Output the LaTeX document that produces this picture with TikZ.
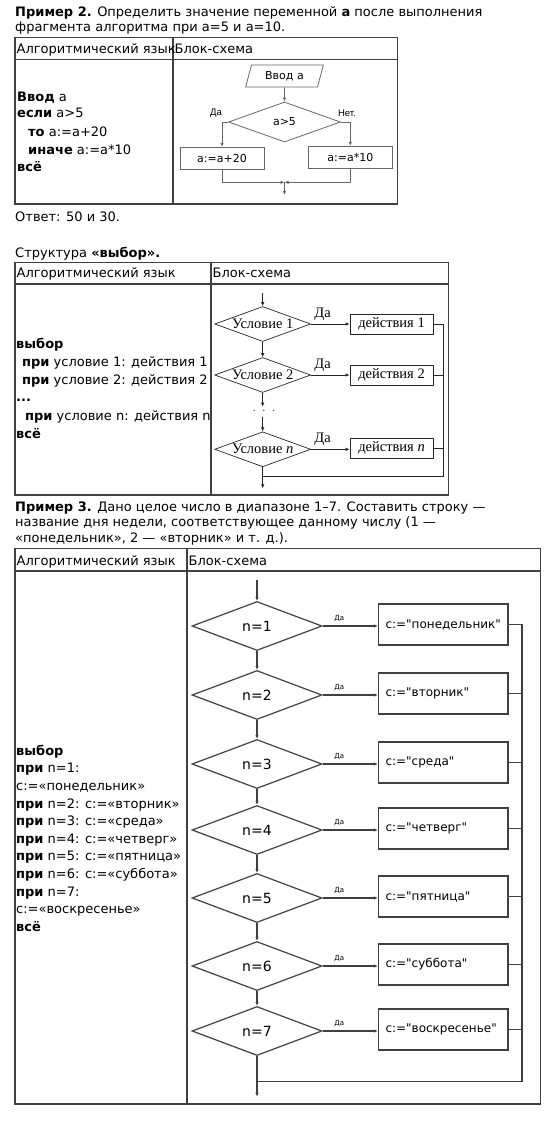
\documentclass[tikz,border=0pt]{standalone}
\usepackage{fontspec}
\setmainfont{DejaVu Sans}
\newfontfamily\serifrm{Liberation Serif}
\newfontfamily\arialsf{Liberation Sans}
\newfontfamily\boxsf{DejaVu Sans}
\usetikzlibrary{shapes.geometric,arrows.meta}

\begin{document}
\begin{tikzpicture}
[x=1pt,y=-1pt,>={Latex[length=4pt,width=3.5pt]},
txt/.style={anchor=base west,inner sep=0pt,font=\fontsize{13}{15}\selectfont},
tab/.style={draw=black!75,line width=1.3pt},
flow1/.style={draw=black!60,line width=.8pt},
flow2/.style={draw=black!85,line width=.7pt},
flow3/.style={draw=black!75,line width=1.2pt},
io/.style={trapezium,trapezium left angle=75,trapezium right angle=105,flow1,minimum height=22pt,inner xsep=5pt,font=\fontsize{11}{13}\selectfont},
dec1/.style={diamond,aspect=2.8,flow1,minimum width=112pt,minimum height=40pt,inner sep=0pt,font=\fontsize{11}{13}\selectfont},
box1/.style={rectangle,flow1,minimum width=84pt,minimum height=22pt,inner sep=0pt,font=\fontsize{11}{13}\selectfont},
lbl1/.style={inner sep=0pt,font=\arialsf\fontsize{9.5}{11}\selectfont},
dec2/.style={diamond,aspect=2.75,flow2,minimum width=96pt,minimum height=35pt,inner sep=0pt,font=\serifrm\fontsize{14.5}{16}\selectfont},
box2/.style={rectangle,flow2,minimum width=83pt,minimum height=20pt,inner sep=0pt,font=\serifrm\fontsize{14.5}{16}\selectfont},
lbl2/.style={inner sep=1pt,font=\serifrm\fontsize{14.5}{16}\selectfont},
dec3/.style={diamond,aspect=2.65,flow3,minimum width=130pt,minimum height=49pt,inner sep=0pt,font=\fontsize{14}{16}\selectfont},
box3/.style={rectangle,flow3,text width=115.5pt,align=left,inner xsep=7pt,minimum height=41pt,font=\boxsf\fontsize{12}{14}\selectfont},
lbl3/.style={inner sep=1pt,font=\fontsize{7}{8}\selectfont}]
\useasboundingbox (0,0) rectangle (553,1128);
\node[txt] (t1) at (15,16) {\textbf{Пример 2.} Определить значение переменной \textbf{а} после выполнения};
\node[txt] (t2) at (15,31.2) {фрагмента алгоритма при а=5 и а=10.};
\draw[tab] (15,37.3) rectangle (397.5,204) (15,59.3) -- (397.5,59.3) (173,37.3) -- (173,204);
\node[txt] (h1a) at (16.5,53.8) {Алгоритмический язык};
\node[txt] (h1b) at (174.5,53.8) {Блок-схема};
\node[txt] (p1) at (17,101.2) {\textbf{Ввод} а};
\node[txt] (p2) at (17,117.8) {\textbf{если} а>5};
\node[txt] (p3) at (28,136.2) {\textbf{то} а:=а+20};
\node[txt] (p4) at (28,154.5) {\textbf{иначе} а:=а*10};
\node[txt] (p5) at (17,171.8) {\textbf{всё}};
\node[io] (inp) at (284.5,76) {Ввод а};
\node[dec1] (cond) at (284.5,122) {а>5};
\node[lbl1] (da) at (216,113.3) {Да};
\node[lbl1] (net) at (347,113.3) {Нет.};
\node[box1] (yes) at (222,158.3) {а:=а+20};
\node[box1] (no) at (350.3,157.2) {а:=а*10};
\coordinate (join) at (284.5,182.3);
\coordinate (out) at (284.5,195);
\draw[flow1,->] (inp) -- (cond);
\draw[flow1,->] (cond.west) -| (yes.north);
\draw[flow1,->] (cond.east) -| (no.north);
\draw[flow1,->] (yes.south) |- (join);
\draw[flow1,->] (no.south) |- (join);
\draw[flow1,->] (join) -- (out);
\node[txt] (ans) at (15,221.2) {Ответ: 50 и 30.};
\node[txt] (t3) at (15,257.8) {Структура \textbf{«выбор».}};
\draw[tab] (15,262.3) rectangle (448.7,495) (15,284) -- (448.7,284) (211,262.3) -- (211,495);
\node[txt] (h2a) at (16.5,277.8) {Алгоритмический язык};
\node[txt] (h2b) at (212.5,277.8) {Блок-схема};
\node[txt] (q1) at (16,348.5) {\textbf{выбор}};
\node[txt] (q2) at (22,366.5) {\textbf{при} условие 1: действия 1};
\node[txt] (q3) at (22,384.5) {\textbf{при} условие 2: действия 2};
\node[txt] (q4) at (16,401.5) {\textbf{...}};
\node[txt] (q5) at (25,420.5) {\textbf{при} условие n: действия n};
\node[txt] (q6) at (16,438.5) {\textbf{всё}};
\coordinate (s2) at (262.7,293.3);
\node[dec2] (u1) at (262.7,324) {Условие 1};
\node[dec2] (u2) at (262.7,375) {Условие 2};
\node[dec2] (un) at (262.7,449.3) {Условие \textit{n}};
\node[box2] (a1) at (391.5,324) {действия 1};
\node[box2] (a2) at (391.5,375.3) {действия 2};
\node[box2] (an) at (391.5,448.3) {действия \textit{n}};
\coordinate (dt) at (262.7,406.7);
\node[inner sep=0pt,text=black!70,font=\fontsize{14}{14}\selectfont] (dots) at (264,411.5) {$\cdot\,\cdot\,\cdot$};
\coordinate (db) at (262.7,416.7);
\coordinate (r2) at (443,476.7);
\coordinate (o2) at (262.7,488.3);
\draw[flow2,->] (s2) -- (u1);
\draw[flow2,->] (u1) -- (u2);
\draw[flow2,->] (u2) -- (dt);
\draw[flow2,->] (db) -- (un);
\draw[flow2,->] (u1) -- (a1) node[lbl2,pos=.3,above=2pt] {Да};
\draw[flow2,->] (u2) -- (u2 -| a2.west) node[lbl2,pos=.3,above=2pt] {Да};
\draw[flow2,->] (un) -- (un -| an.west) node[lbl2,pos=.3,above=2pt] {Да};
\draw[flow2] (a1.east) -| (r2) -- (r2 -| un);
\draw[flow2] (a2.east) -- (a2.east -| r2);
\draw[flow2] (an.east) -- (an.east -| r2);
\draw[flow2,->] (un) -- (o2);
\node[txt] (t4) at (15,511.2) {\textbf{Пример 3.} Дано целое число в диапазоне 1–7. Составить строку —};
\node[txt] (t5) at (15,526.8) {название дня недели, соответствующее данному числу (1 —};
\node[txt] (t6) at (15,542.8) {«понедельник», 2 — «вторник» и т. д.).};
\draw[tab] (15,548.5) rectangle (540.5,1104) (15,571) -- (540.5,571) (187,548.5) -- (187,1104);
\node[txt] (h3a) at (16.5,565.5) {Алгоритмический язык};
\node[txt] (h3b) at (188.5,565.5) {Блок-схема};
\foreach \k/\s in {0/{\textbf{выбор}},1/{\textbf{при} n=1:},2/{c:=«понедельник»},3/{\textbf{при} n=2: c:=«вторник»},4/{\textbf{при} n=3: c:=«среда»},5/{\textbf{при} n=4: c:=«четверг»},6/{\textbf{при} n=5: c:=«пятница»},7/{\textbf{при} n=6: c:=«суббота»},8/{\textbf{при} n=7:},9/{c:=«воскресенье»},10/{\textbf{всё}}}
  \node[txt] (w\k) at (16,755.2+17.6*\k) {\s};
\foreach \i/\y/\d in {1/626/понедельник,2/695/вторник,3/764/среда,4/830/четверг,5/898/пятница,6/966/суббота,7/1031/воскресенье}{
  \node[dec3] (n\i) at (257,\y) {n=\i};
  \node[box3] (c\i) at (443.25,\y-1.5) {c:="\d"};
  \draw[flow3,->] (n\i) -- (n\i -| c\i.west) node[lbl3,pos=.3,above=3pt] {Да};
}
\coordinate (s3) at (257,580);
\coordinate (r3) at (522,1081.7);
\coordinate (o3) at (257,1096.7);
\draw[flow3,->] (s3) -- (n1);
\foreach \i/\j in {1/2,2/3,3/4,4/5,5/6,6/7}
  \draw[flow3,->] (n\i) -- (n\j);
\draw[flow3] (c1.east) -| (r3) -- (r3 -| n7);
\foreach \i in {2,...,7}
  \draw[flow3] (c\i.east) -- (c\i.east -| r3);
\draw[flow3,->] (n7) -- (o3);
\end{tikzpicture}
\end{document}
